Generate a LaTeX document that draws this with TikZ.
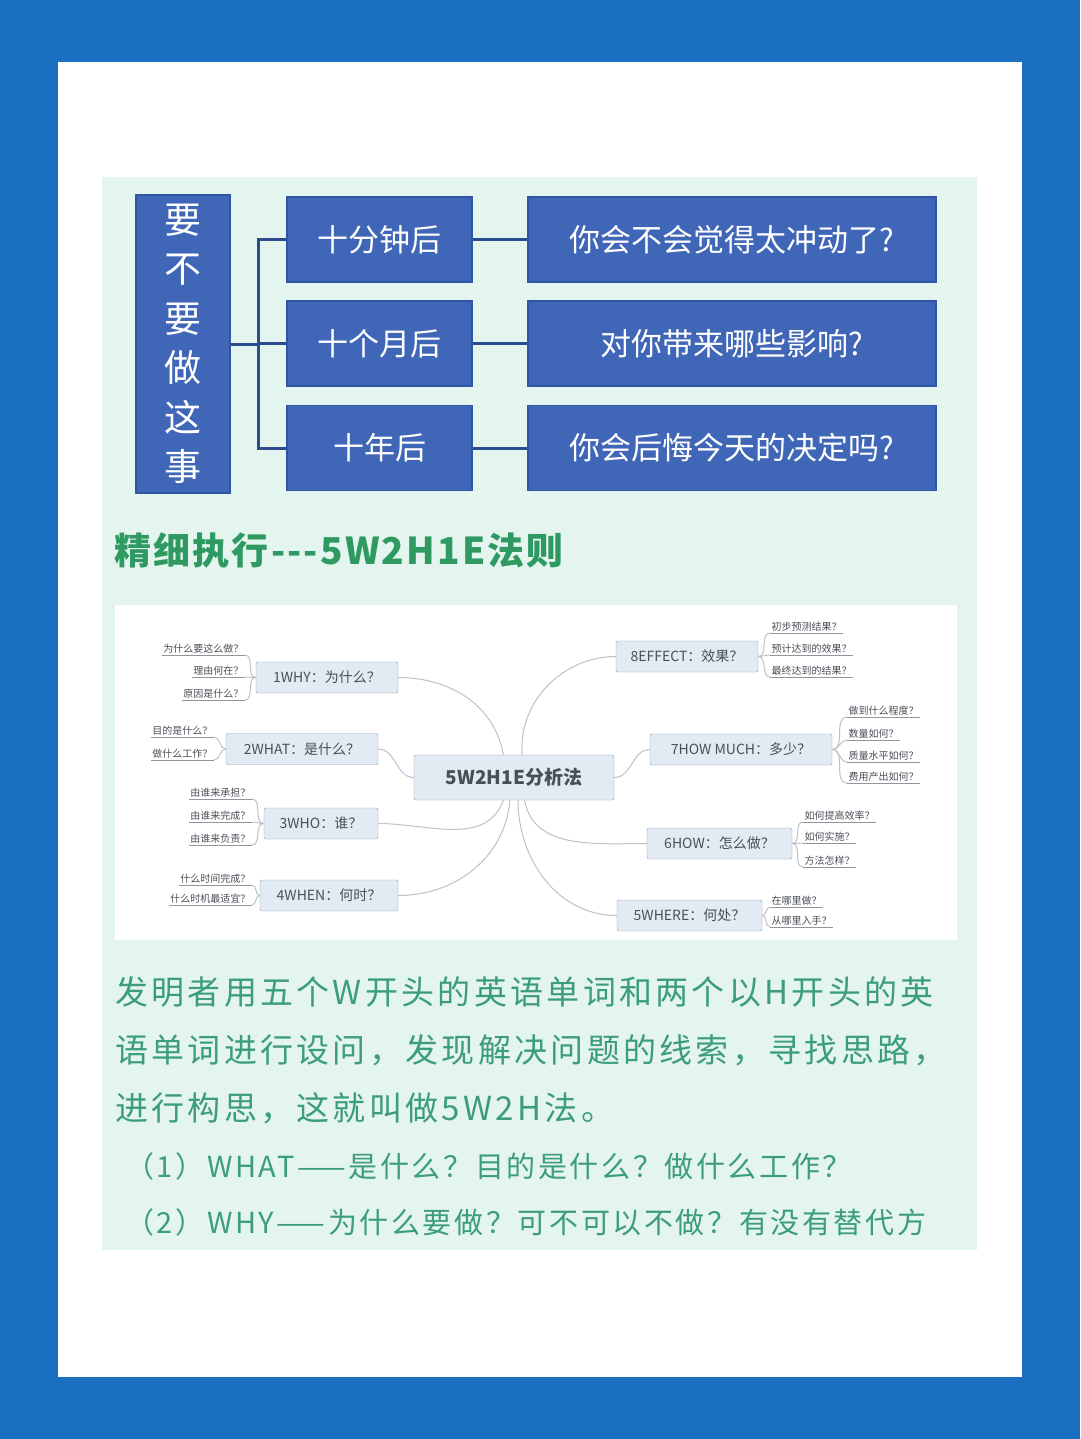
\documentclass[tikz,border=0pt]{standalone}
\usepackage{fontspec}
\setmainfont{Noto Sans CJK SC}
\usepackage{tikz}
\usetikzlibrary{positioning}
\definecolor{frameBlue}{HTML}{1A6FC1}
\definecolor{mintBg}{HTML}{E4F4EE}
\definecolor{boxBlue}{HTML}{4066B8}
\definecolor{boxEdge}{HTML}{2F55A4}
\definecolor{linkNavy}{HTML}{2B4C8E}
\definecolor{headGreen}{HTML}{2E9A62}
\definecolor{textGreen}{HTML}{3C9C80}
\definecolor{mapFill}{HTML}{E2EBF4}
\definecolor{mapEdge}{HTML}{8D9DB2}
\definecolor{mapInk}{HTML}{4A4F57}
\definecolor{mapLine}{HTML}{BCC2CA}
\tikzset{
  bluebox/.style = {draw=boxEdge, line width=1.5pt, fill=boxBlue, text=white,
                    minimum height=85pt, inner sep=0pt, font=\fontsize{31}{36}\selectfont},
  link/.style    = {draw=linkNavy, line width=3pt},
  branch/.style  = {draw=mapEdge, fill=mapFill, rounded corners=2pt, text=mapInk,
                    minimum height=31pt, inner sep=3pt, font=\fontsize{14}{16}\selectfont},
  leaf/.style    = {text=mapInk, inner sep=1.5pt, font=\fontsize{10}{12}\selectfont},
  curve/.style   = {draw=mapLine, line width=1pt},
  uline/.style   = {draw=mapInk!60, line width=0.9pt},
  para/.style    = {anchor=west, text=textGreen, inner sep=0pt,
                    font=\fontsize{33}{38}\selectfont\addfontfeatures{LetterSpace=10}},
  item/.style    = {para, font=\fontsize{29}{34}\selectfont\addfontfeatures{LetterSpace=9}}
}

\begin{document}
\begin{tikzpicture}[x=1pt, y=-1pt]
  % frame and panels
  \fill[frameBlue] (0,0) rectangle (1080,1439);
  \fill[white] (58,62) rectangle (1022,1377);
  \fill[mintBg] (102,177) rectangle (977,1250);

  % decision tree
  \node[bluebox, minimum width=94pt, minimum height=298pt, align=center,
        font=\fontsize{37}{49.5}\selectfont] (ask) at (183,344) {要\\不\\要\\做\\这\\事};
  \node[bluebox, minimum width=185pt] (t1) at (379.5,239.5) {十分钟后};
  \node[bluebox, minimum width=185pt] (t2) at (379.5,343.5) {十个月后};
  \node[bluebox, minimum width=185pt] (t3) at (379.5,448) {十年后};
  \node[bluebox, minimum width=408pt] (r1) at (732,239.5) {你会不会觉得太冲动了?};
  \node[bluebox, minimum width=408pt] (r2) at (732,343.5) {对你带来哪些影响?};
  \node[bluebox, minimum width=408pt] (r3) at (732,448) {你会后悔今天的决定吗?};
  \coordinate (fork) at (258,344);
  \draw[link] (ask.east) -- (fork);
  \foreach \t in {t1, t2, t3} \draw[link] (fork) |- (\t.west);
  \foreach \a/\b in {t1/r1, t2/r2, t3/r3} \draw[link] (\a) -- (\b);

  \node[anchor=west, text=headGreen, inner sep=0pt,
        font=\bfseries\fontsize{37}{40}\selectfont\addfontfeatures{LetterSpace=6}] (head) at (114,551) {精细执行-{}-{}-5W2H1E法则};

  % mind map
  \node[fill=white, minimum width=842pt, minimum height=335pt, inner sep=0pt] (panel) at (536,772.5) {};
  \node[branch, minimum width=200pt, minimum height=45pt,
        font=\bfseries\fontsize{19}{22}\selectfont] (core) at (514,777.5) {5W2H1E分析法};
  \node[branch, minimum width=142pt] (why)     at (327,677.5) {1WHY：为什么？};
  \node[branch, minimum width=152pt] (what)    at (302,749)   {2WHAT：是什么？};
  \node[branch, minimum width=114pt] (who)     at (321,823.5) {3WHO：谁？};
  \node[branch, minimum width=138pt] (when)    at (329,895.5) {4WHEN：何时？};
  \node[branch, minimum width=142pt] (effect)  at (687,656.5) {8EFFECT：效果？};
  \node[branch, minimum width=182pt] (howmuch) at (741,749.5) {7HOW MUCH：多少？};
  \node[branch, minimum width=145pt] (how)     at (719.5,843.5) {6HOW：怎么做？};
  \node[branch, minimum width=145pt] (where)   at (689.5,915.5) {5WHERE：何处？};

  \draw[curve] (why.east)  to[out=0, in=100] (core.115);
  \draw[curve] (what.east) to[out=0, in=180] (core.west);
  \draw[curve] (who.east)  to[out=0, in=250] (core.245);
  \draw[curve] (when.east) to[out=0, in=265] (core.260);
  \draw[curve] (core.70)   to[out=95, in=180] (effect.west);
  \draw[curve] (core.east) to[out=0, in=180] (howmuch.west);
  \draw[curve] (core.295)  to[out=280, in=180] (how.west);
  \draw[curve] (core.280)  to[out=270, in=180] (where.west);

  % leaves, left side
  \node[leaf, anchor=south east] (why1) at (245,655) {为什么要这么做？};
  \node[leaf, anchor=south east] (why2) at (245,677) {理由何在？};
  \node[leaf, anchor=south east] (why3) at (245,700) {原因是什么？};
  \node[leaf, anchor=south east] (what1) at (214,737) {目的是什么？};
  \node[leaf, anchor=south east] (what2) at (214,760) {做什么工作？};
  \node[leaf, anchor=south east] (who1) at (252,799) {由谁来承担？};
  \node[leaf, anchor=south east] (who2) at (252,822) {由谁来完成？};
  \node[leaf, anchor=south east] (who3) at (252,845) {由谁来负责？};
  \node[leaf, anchor=south east] (when1) at (252,885) {什么时间完成？};
  \node[leaf, anchor=south east] (when2) at (252,905) {什么时机最适宜？};
  % leaves, right side
  \node[leaf, anchor=south west] (eff1) at (770,633) {初步预测结果？};
  \node[leaf, anchor=south west] (eff2) at (770,655) {预计达到的效果？};
  \node[leaf, anchor=south west] (eff3) at (770,677) {最终达到的结果？};
  \node[leaf, anchor=south west] (much1) at (847,717) {做到什么程度？};
  \node[leaf, anchor=south west] (much2) at (847,740) {数量如何？};
  \node[leaf, anchor=south west] (much3) at (847,762) {质量水平如何？};
  \node[leaf, anchor=south west] (much4) at (847,783) {费用产出如何？};
  \node[leaf, anchor=south west] (how1) at (803,822) {如何提高效率？};
  \node[leaf, anchor=south west] (how2) at (803,843) {如何实施？};
  \node[leaf, anchor=south west] (how3) at (803,867) {方法怎样？};
  \node[leaf, anchor=south west] (where1) at (770,907) {在哪里做？};
  \node[leaf, anchor=south west] (where2) at (770,927) {从哪里入手？};

  \foreach \b/\l in {why/why1, why/why2, why/why3, what/what1, what/what2,
                     who/who1, who/who2, who/who3, when/when1, when/when2}
    \draw[curve] (\b.west) to[out=180, in=0] (\l.south east);
  \foreach \b/\l in {effect/eff1, effect/eff2, effect/eff3,
                     howmuch/much1, howmuch/much2, howmuch/much3, howmuch/much4,
                     how/how1, how/how2, how/how3, where/where1, where/where2}
    \draw[curve] (\b.east) to[out=0, in=180] (\l.south west);
  \foreach \l in {why1, why2, why3, what1, what2, who1, who2, who3, when1, when2,
                  eff1, eff2, eff3, much1, much2, much3, much4, how1, how2, how3,
                  where1, where2}
    \draw[uline] (\l.south west) -- (\l.south east);

  % explanation
  \node[para] (p1) at (115,992)  {发明者用五个W开头的英语单词和两个以H开头的英};
  \node[para] (p2) at (115,1050) {语单词进行设问，发现解决问题的线索，寻找思路，};
  \node[para] (p3) at (115,1108) {进行构思，这就叫做5W2H法。};
  \node[item] (p4) at (125,1166) {（1）WHAT——是什么？目的是什么？做什么工作？};
  \node[item] (p5) at (125,1222) {（2）WHY——为什么要做？可不可以不做？有没有替代方};
\end{tikzpicture}
\end{document}
